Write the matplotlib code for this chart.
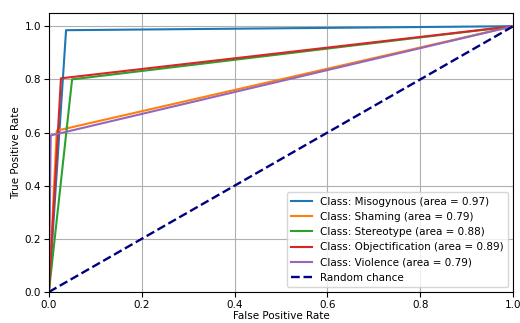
import numpy as np
import matplotlib.pyplot as plt

# ROC points (one threshold per class)
class_names = ["Misogynous", "Shaming", "Stereotype", "Objectification", "Violence"]
fpr_mid = [0.037, 0.017, 0.050, 0.026, 0.004]
tpr_mid = [0.985, 0.607, 0.800, 0.804, 0.589]
auc_vals = [0.97, 0.79, 0.88, 0.89, 0.79]
colors = ["#1f77b4", "#ff7f0e", "#2ca02c", "#d62728", "#9467bd"]

plt.rcParams['font.size'] = 7.5

fig = plt.figure(figsize=(5.2, 3.23), dpi=100)
ax = fig.add_axes([0.094, 0.096, 0.893, 0.864])

for name, fx, ty, auc, c in zip(class_names, fpr_mid, tpr_mid, auc_vals, colors):
    ax.plot([0, fx, 1], [0, ty, 1], color=c, lw=1.5,
            label="Class: %s (area = %.2f)" % (name, auc))

ax.plot([0, 1], [0, 1], color="navy", lw=1.7, linestyle="--", label="Random chance")

ax.set_xlim(0.0, 1.0)
ax.set_ylim(0.0, 1.05)
ax.tick_params(pad=2)
ax.set_xlabel("False Positive Rate", labelpad=1)
ax.set_ylabel("True Positive Rate", labelpad=3)
ax.grid(True)
ax.legend(loc="lower right")

fig.savefig("out.png", dpi=100)
